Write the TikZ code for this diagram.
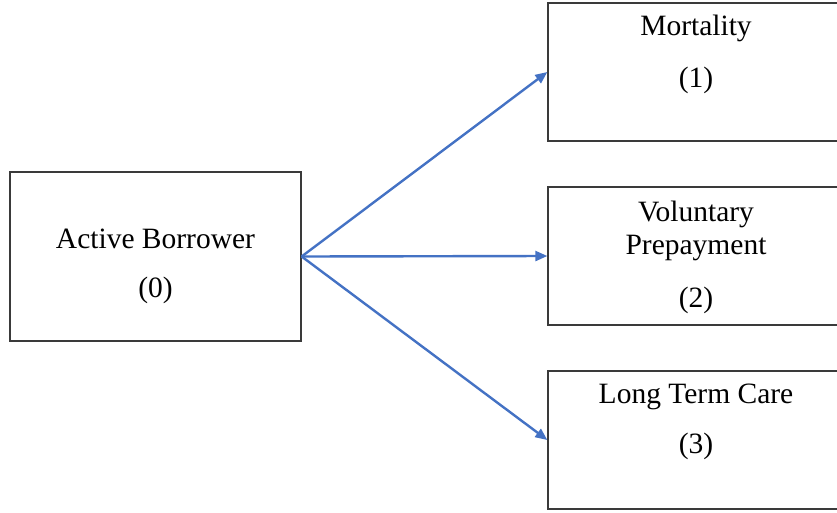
\documentclass[tikz,border=0pt]{standalone}
\usepackage{fontspec}
\setmainfont{Liberation Serif}
\usetikzlibrary{arrows.meta}
\definecolor{arrowblue}{HTML}{4472C4}
\definecolor{boxgray}{HTML}{3A3A3A}
\tikzset{
  statebox/.style={draw=boxgray, line width=1.3pt, minimum width=291pt, minimum height=138pt, inner sep=0pt},
  label/.style={font=\fontsize{29.5}{34}\selectfont, inner sep=0pt},
  trans/.style={draw=arrowblue, line width=2.4pt, -{Triangle[length=12pt,width=10pt]}}
}
\begin{document}
\begin{tikzpicture}[x=1pt,y=-1pt]
      \useasboundingbox (0,0) rectangle (837,512);
      \node[statebox, minimum height=169pt] (b0) at (155.5,256.5) {};
      \node[statebox] (b1) at (693.5,72) {};
      \node[statebox] (b2) at (693.5,256) {};
      \node[statebox] (b3) at (693.5,440) {};
      % state labels
      \node[label] (t0) at (155.5,239) {Active Borrower};
      \node[label] (n0) at (155.5,290) {(0)};
      \node[label] (t1) at (696,28) {Mortality};
      \node[label] (n1) at (696,80) {(1)};
      \node[label] (t2a) at (696,214) {Voluntary};
      \node[label] (t2b) at (696,248) {Prepayment};
      \node[label] (n2) at (696,300) {(2)};
      \node[label] (t3) at (696,397) {Long Term Care};
      \node[label] (n3) at (696,446) {(3)};
      % transitions
      \draw[trans] (b0.east) -- (b1.west);
      \draw[trans] (b0.east) -- (b2.west);
      \draw[trans] (b0.east) -- (b3.west);
    \end{tikzpicture}
\end{document}
